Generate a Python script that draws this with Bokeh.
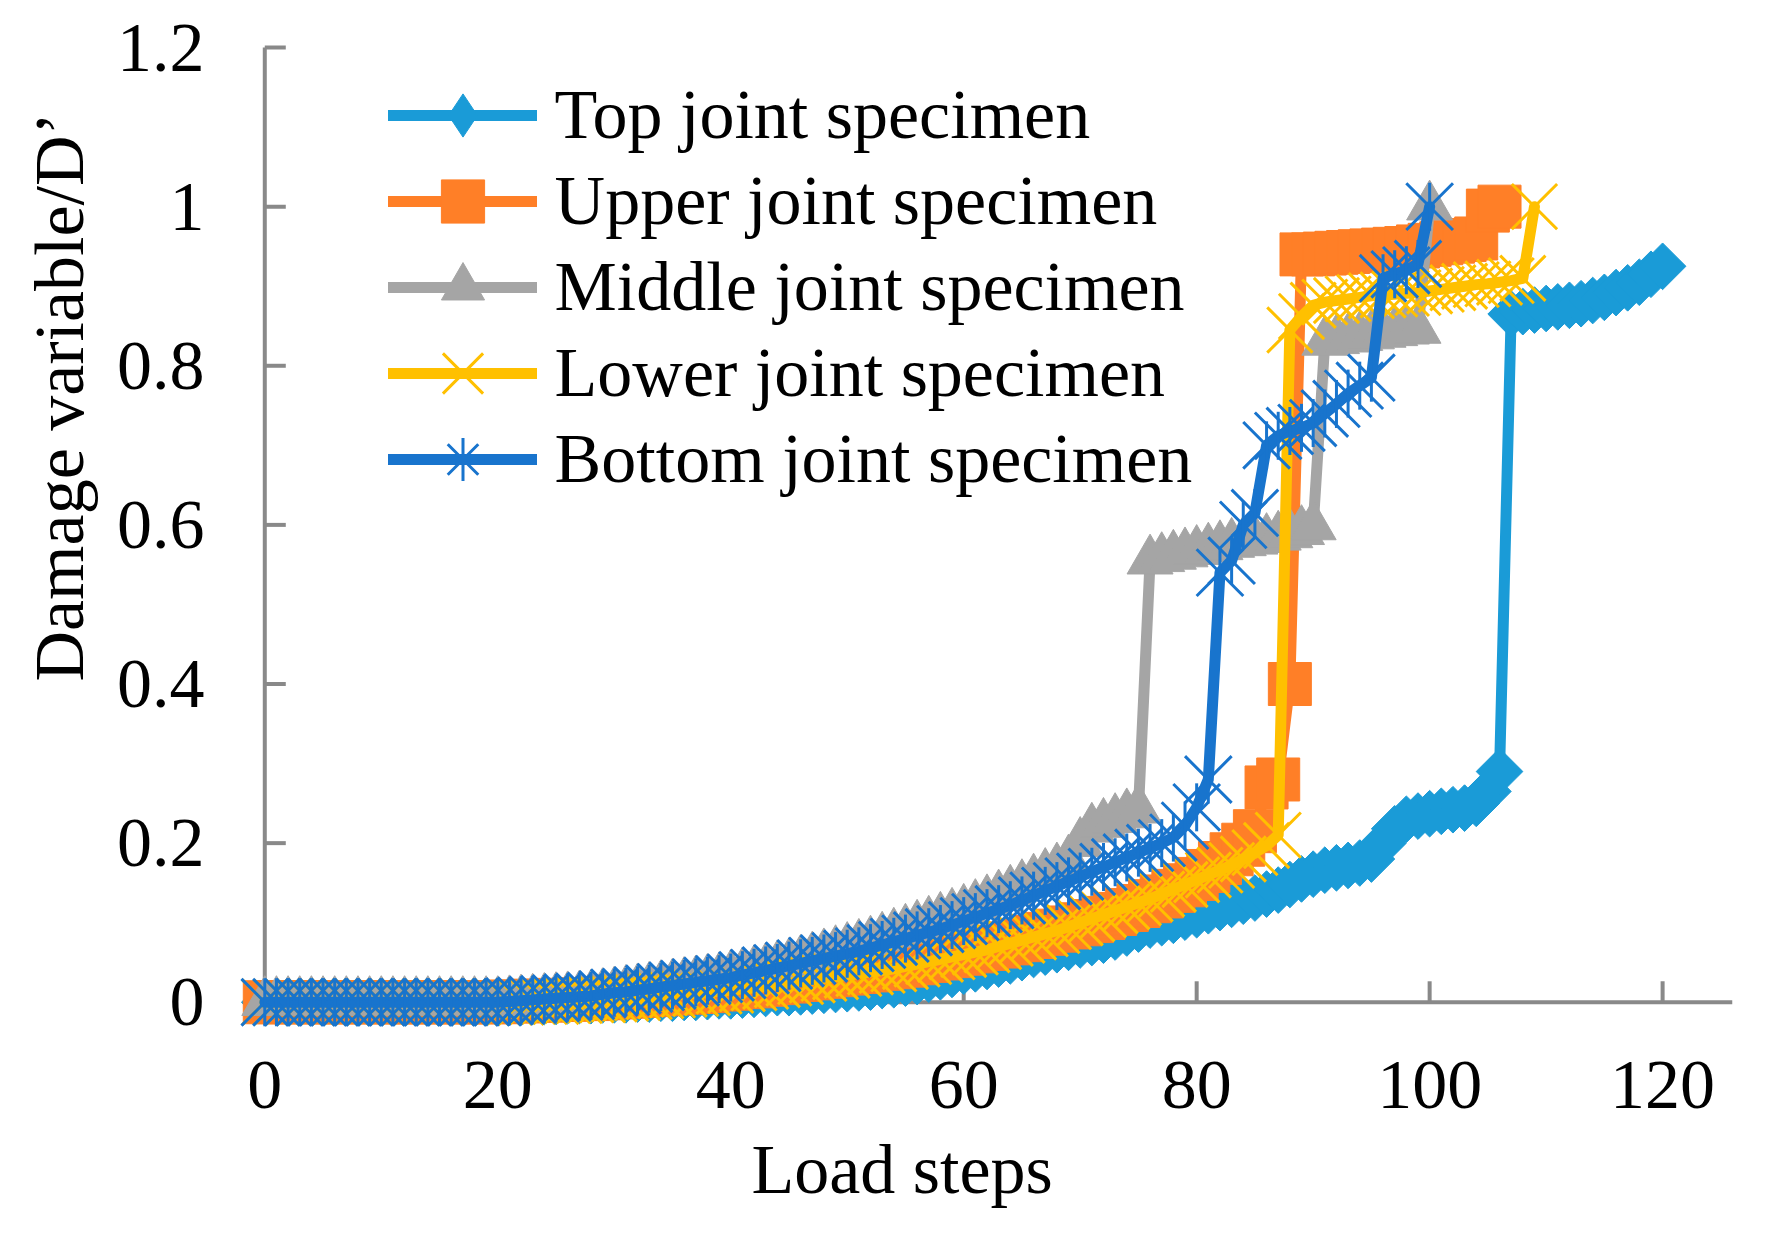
from math import pi
from bokeh.plotting import figure
from bokeh.models import (Range1d, FixedTicker, CustomJSTickFormatter, Legend,
                          LegendItem, ColumnDataSource, Title, CDSView, IndexFilter)
from bokeh.embed import file_html
from bokeh.resources import INLINE

FONT = "Liberation Serif"

# ---------------- data ----------------
x_ticks = [0, 20, 40, 60, 80, 100, 120]
y_ticks = [0, 0.2, 0.4, 0.6, 0.8, 1, 1.2]
X_MAX = 126
Y_MAX = 1.2

series_names = ["Top joint specimen", "Upper joint specimen", "Middle joint specimen",
                "Lower joint specimen", "Bottom joint specimen"]

top = [0, 0, 0, 0, 0, 0, 0, 0, 0, 0, 0, 0, 0, 0, 0, 0, 0, 0, 0, 0, 0,
       0.000, 0.000, 0.001, 0.001, 0.001, 0.002, 0.002, 0.002, 0.003, 0.003,
       0.003, 0.004, 0.004, 0.005, 0.005, 0.006, 0.006, 0.007, 0.008, 0.008,
       0.009, 0.010, 0.011, 0.012, 0.012, 0.013, 0.014, 0.015, 0.016, 0.017,
       0.018, 0.019, 0.021, 0.022, 0.024, 0.026, 0.029, 0.032, 0.035, 0.039,
       0.042, 0.045, 0.048, 0.052, 0.056, 0.060, 0.063, 0.066, 0.069, 0.072,
       0.075, 0.078, 0.082, 0.087, 0.092, 0.097, 0.100, 0.103, 0.107, 0.110,
       0.115, 0.119, 0.123, 0.127, 0.131, 0.136, 0.141, 0.148, 0.155, 0.161,
       0.166, 0.169, 0.172, 0.175, 0.180, 0.200, 0.218, 0.230, 0.234, 0.237,
       0.240, 0.242, 0.244, 0.250, 0.265, 0.290, 0.865, 0.868, 0.870, 0.872,
       0.874, 0.876, 0.878, 0.882, 0.886, 0.892, 0.898, 0.905, 0.915, 0.925]

upper = [0, 0, 0, 0, 0, 0, 0, 0, 0, 0, 0, 0, 0, 0, 0, 0, 0, 0, 0, 0, 0,
         0.001, 0.001, 0.002, 0.002, 0.003, 0.003, 0.004, 0.004, 0.005, 0.006,
         0.007, 0.008, 0.009, 0.010, 0.011, 0.012, 0.013, 0.014, 0.016, 0.017,
         0.019, 0.020, 0.022, 0.024, 0.026, 0.028, 0.030, 0.032, 0.034, 0.036,
         0.038, 0.040, 0.042, 0.044, 0.046, 0.049, 0.052, 0.055, 0.058, 0.061,
         0.064, 0.067, 0.070, 0.074, 0.078, 0.082, 0.086, 0.090, 0.094, 0.098,
         0.102, 0.106, 0.111, 0.116, 0.121, 0.127, 0.133, 0.140, 0.147, 0.155,
         0.165, 0.175, 0.186, 0.198, 0.215, 0.270, 0.280, 0.400, 0.940, 0.940,
         0.941, 0.942, 0.943, 0.944, 0.945, 0.946, 0.947, 0.948, 0.950, 0.952,
         0.954, 0.956, 0.958, 0.960, 0.995, 1.000]

middle = [0, 0, 0, 0, 0, 0, 0, 0, 0, 0, 0, 0, 0, 0, 0, 0, 0, 0, 0, 0, 0,
          0.001, 0.002, 0.003, 0.004, 0.005, 0.006, 0.007, 0.008, 0.010, 0.012,
          0.014, 0.016, 0.018, 0.020, 0.022, 0.024, 0.026, 0.028, 0.030, 0.033,
          0.036, 0.039, 0.042, 0.045, 0.048, 0.052, 0.056, 0.060, 0.064, 0.068,
          0.072, 0.076, 0.081, 0.086, 0.091, 0.096, 0.101, 0.106, 0.111, 0.116,
          0.122, 0.128, 0.134, 0.140, 0.147, 0.154, 0.161, 0.168, 0.178, 0.200,
          0.218, 0.224, 0.230, 0.236, 0.242, 0.555, 0.558, 0.561, 0.564, 0.567,
          0.570, 0.573, 0.576, 0.578, 0.580, 0.582, 0.585, 0.588, 0.592, 0.598,
          0.830, 0.832, 0.834, 0.836, 0.838, 0.840, 0.842, 0.844, 0.845, 1.000]

lower = [0, 0, 0, 0, 0, 0, 0, 0, 0, 0, 0, 0, 0, 0, 0, 0, 0, 0, 0, 0, 0,
         0.000, 0.000, 0.001, 0.001, 0.001, 0.002, 0.002, 0.003, 0.003, 0.004,
         0.005, 0.006, 0.007, 0.008, 0.009, 0.010, 0.011, 0.012, 0.014, 0.015,
         0.017, 0.018, 0.020, 0.022, 0.024, 0.026, 0.028, 0.030, 0.032, 0.034,
         0.036, 0.038, 0.040, 0.042, 0.045, 0.048, 0.051, 0.054, 0.057, 0.060,
         0.063, 0.066, 0.070, 0.074, 0.078, 0.082, 0.086, 0.090, 0.095, 0.100,
         0.105, 0.110, 0.115, 0.120, 0.125, 0.130, 0.136, 0.142, 0.148, 0.154,
         0.160, 0.166, 0.172, 0.180, 0.188, 0.197, 0.210, 0.845, 0.862, 0.876,
         0.880, 0.882, 0.884, 0.886, 0.888, 0.889, 0.890, 0.891, 0.892, 0.894,
         0.896, 0.898, 0.900, 0.902, 0.903, 0.905, 0.907, 0.910, 1.000]

bottom = [0, 0, 0, 0, 0, 0, 0, 0, 0, 0, 0, 0, 0, 0, 0, 0, 0, 0, 0, 0, 0,
          0.001, 0.002, 0.003, 0.004, 0.005, 0.006, 0.007, 0.008, 0.010, 0.012,
          0.013, 0.015, 0.017, 0.019, 0.021, 0.023, 0.025, 0.027, 0.029, 0.031,
          0.034, 0.037, 0.040, 0.043, 0.046, 0.049, 0.052, 0.055, 0.058, 0.061,
          0.064, 0.068, 0.072, 0.076, 0.080, 0.084, 0.088, 0.092, 0.097, 0.102,
          0.107, 0.112, 0.117, 0.122, 0.128, 0.134, 0.140, 0.146, 0.152, 0.158,
          0.164, 0.170, 0.176, 0.182, 0.188, 0.194, 0.200, 0.207, 0.222, 0.245,
          0.280, 0.540, 0.555, 0.600, 0.615, 0.700, 0.712, 0.718, 0.722, 0.728,
          0.740, 0.752, 0.765, 0.775, 0.785, 0.910, 0.915, 0.920, 0.928, 1.000]

colors = ["#1A9BD7", "#FF7F27", "#A5A5A5", "#FFC000", "#1874CD"]
AXIS_COLOR = "#898989"

# ---------------- layout geometry ----------------
W, H = 1763, 1225
BL, BR, BT, BB = 234, 31, 44, 194
X_START, Y_START, Y_END = -2.6, -0.0355, 1.2038
fw, fh = W - BL - BR, H - BT - BB
kx = fw / (X_MAX - X_START)
ky = fh / (Y_END - Y_START)
TICK_PX = 21

p = figure(width=W, height=H, output_backend="svg", toolbar_location=None,
           x_range=Range1d(X_START, X_MAX), y_range=Range1d(Y_START, Y_END),
           min_border_left=BL, min_border_right=BR, min_border_top=BT,
           min_border_bottom=BB)
p.outline_line_color = None
p.xgrid.visible = False
p.ygrid.visible = False
p.background_fill_color = "white"
p.border_fill_color = "white"

for ax in (p.xaxis[0], p.yaxis[0]):
    ax.axis_line_color = None
    ax.major_tick_line_color = None
    ax.minor_tick_line_color = None
    ax.major_tick_in = 0
    ax.major_tick_out = 0
    ax.major_label_text_font = FONT
    ax.major_label_text_font_size = "70px"
    ax.major_label_text_color = "black"
p.xaxis.ticker = FixedTicker(ticks=x_ticks)
p.yaxis.ticker = FixedTicker(ticks=y_ticks)
p.yaxis.formatter = CustomJSTickFormatter(code="return String(tick)")
p.xaxis.major_label_standoff = 31
p.yaxis.major_label_standoff = 30

# axis lines and inward tick marks at x = 0 and y = 0 (drawn under the series)
p.segment(x0=[0, 0], y0=[0, 0], x1=[X_MAX, 0], y1=[0, Y_MAX],
          line_color=AXIS_COLOR, line_width=4)
p.segment(x0=[0] * len(y_ticks), y0=y_ticks, x1=[TICK_PX / kx] * len(y_ticks),
          y1=y_ticks, line_color=AXIS_COLOR, line_width=4)
p.segment(x0=x_ticks, y0=[0] * len(x_ticks), x1=x_ticks,
          y1=[TICK_PX / ky] * len(x_ticks), line_color=AXIS_COLOR, line_width=4)

all_series = [top, upper, middle, lower, bottom]
sources = [ColumnDataSource(data=dict(x=list(range(len(v))), y=v)) for v in all_series]
LW = 11

# --- Top joint specimen (drawn first, lowest layer)
c = colors[0]
top_line = p.line("x", "y", source=sources[0], line_color=c, line_width=LW,
                  line_join="round", line_cap="round")
p.scatter("x", "y", source=sources[0], marker="square", angle=pi / 4, size=33,
          fill_color=c, line_color=c)

# legend-only glyphs: drawn once at the first point, hidden under later markers
first_only = [CDSView(filter=IndexFilter([0])) for _ in range(2)]
top_leg = p.scatter("x", "y", source=sources[0], view=first_only[0], marker="diamond",
                    size=40, fill_color=c, line_color=c)
bot_leg = p.scatter("x", "y", source=sources[4], view=first_only[1], marker="cross",
                    size=40, line_color=colors[4], line_width=3)

# --- Upper
c = colors[1]
up_line = p.line("x", "y", source=sources[1], line_color=c, line_width=LW,
                 line_join="round", line_cap="round")
up_mk = p.scatter("x", "y", source=sources[1], marker="square", size=43,
                  fill_color=c, line_color=c)
# --- Middle
c = colors[2]
mid_line = p.line("x", "y", source=sources[2], line_color=c, line_width=LW,
                  line_join="round", line_cap="round")
mid_mk = p.scatter("x", "y", source=sources[2], marker="triangle", size=46,
                   fill_color=c, line_color=c)
# --- Lower
c = colors[3]
low_line = p.line("x", "y", source=sources[3], line_color=c, line_width=LW,
                  line_join="round", line_cap="round")
low_mk = p.scatter("x", "y", source=sources[3], marker="x", size=64,
                   line_color=c, line_width=3)
# --- Bottom (top layer)
c = colors[4]
bot_line = p.line("x", "y", source=sources[4], line_color=c, line_width=LW,
                  line_join="round", line_cap="round")
bot_mk = p.scatter("x", "y", source=sources[4], marker="x", size=66,
                   line_color=c, line_width=3)
p.scatter("x", "y", source=sources[4], marker="dash", angle=pi / 2, size=48,
          line_color=c, line_width=3)

items = [
    LegendItem(label=series_names[0], renderers=[top_line, top_leg]),
    LegendItem(label=series_names[1], renderers=[up_line, up_mk]),
    LegendItem(label=series_names[2], renderers=[mid_line, mid_mk]),
    LegendItem(label=series_names[3], renderers=[low_line, low_mk]),
    LegendItem(label=series_names[4], renderers=[bot_line, bot_mk, bot_leg]),
]

# Interleaved legends give a row pitch (86 px) smaller than the glyph box,
# so the legend markers can be drawn at the reference's size.
leg_common = dict(glyph_width=149, padding=0, margin=0, label_standoff=18,
                  label_text_font=FONT, label_text_font_size="70px",
                  label_text_color="black", border_line_color=None,
                  background_fill_alpha=0)
legend_a = Legend(items=[items[0], items[2], items[4]], location=(153.6, 517.4),
                  glyph_height=108, spacing=64, **leg_common)
legend_b = Legend(items=[items[1]], location=(153.6, 775.4), glyph_height=108,
                  **leg_common)
legend_c = Legend(items=[items[3]], location=(153.6, 586), glyph_height=142,
                  **leg_common)
for lg in (legend_a, legend_b, legend_c):
    p.add_layout(lg)

# axis titles
p.add_layout(Title(text="Load steps", align="left", offset=517, standoff=36,
                   text_font=FONT, text_font_size="70px", text_font_style="normal",
                   text_color="black"), "below")
p.add_layout(Title(text="Damage variable/D\u2019", align="left", offset=349,
                   standoff=32, text_font=FONT, text_font_size="70px",
                   text_font_style="normal", text_color="black"), "left")

open("out.html", "w").write(file_html(p, INLINE))
